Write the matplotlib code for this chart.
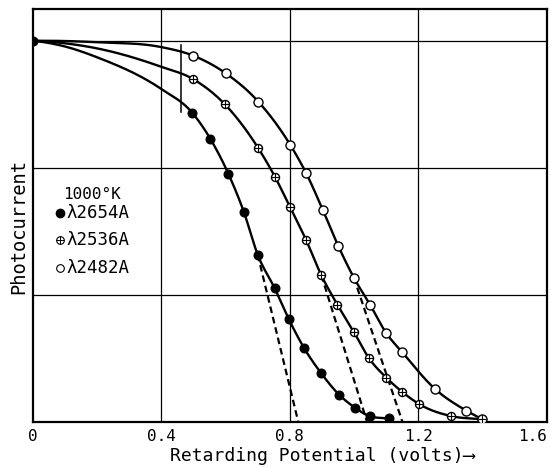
import numpy as np
import matplotlib
matplotlib.use("Agg")
import matplotlib.pyplot as plt

plt.rcParams["font.family"] = ["DejaVu Sans Mono", "DejaVu Sans"]

# ---------------- data ----------------
# lambda 2654 A (filled circles)
v2654 = [0.0, 0.497, 0.553, 0.609, 0.657, 0.700, 0.753, 0.797, 0.845, 0.898, 0.953, 1.003, 1.049, 1.110]
i2654 = [3.0, 2.431, 2.226, 1.951, 1.651, 1.315, 1.050, 0.806, 0.577, 0.380, 0.213, 0.110, 0.043, 0.026]
# lambda 2536 A (crossed circles)
v2536 = [0.499, 0.598, 0.702, 0.754, 0.801, 0.851, 0.898, 0.948, 1.000, 1.046, 1.100, 1.150, 1.202, 1.300, 1.399]
i2536 = [2.698, 2.499, 2.153, 1.927, 1.688, 1.428, 1.153, 0.921, 0.703, 0.501, 0.347, 0.234, 0.139, 0.045, 0.019]
# lambda 2482 A (open circles)
v2482 = [0.500, 0.601, 0.702, 0.802, 0.851, 0.903, 0.951, 0.999, 1.050, 1.099, 1.150, 1.252, 1.349, 1.399]
i2482 = [2.882, 2.743, 2.520, 2.177, 1.956, 1.665, 1.382, 1.135, 0.919, 0.701, 0.546, 0.257, 0.087, 0.019]

guide_v = [0.0, 0.1, 0.2, 0.4]
guide_2654 = [3.0, 2.955, 2.87, 2.62]
guide_2536 = [3.0, 2.98, 2.94, 2.795]
guide_2482 = [3.0, 2.998, 2.988, 2.95]

# dashed extrapolations: (start V, start I, end V, end I)
dash_v0 = [0.700, 0.898, 0.999]
dash_i0 = [1.315, 1.153, 1.135]
dash_v1 = [0.826, 1.040, 1.150]
dash_i1 = [0.0, 0.0, 0.0]

# short vertical mark
mark_v = 0.46
mark_i = [2.436, 2.97]

xticks = [0, 0.4, 0.8, 1.2, 1.6]
xtick_labels = ["0", "0.4", "0.8", "1.2", "1.6"]
legend_title = "1000°K"
legend_labels = ["λ2654A", "λ2536A", "λ2482A"]


def smooth_curve(x, y, xn):
    """Cubic Hermite through the points, 3-point slopes limited to avoid overshoot."""
    x = np.asarray(x, float)
    y = np.asarray(y, float)
    h = np.diff(x)
    d = np.diff(y) / h
    n = len(x)
    m = np.zeros(n)
    for k in range(1, n - 1):
        if d[k - 1] * d[k] <= 0:
            m[k] = 0.0
        else:
            m[k] = (h[k] * d[k - 1] + h[k - 1] * d[k]) / (h[k - 1] + h[k])
    m0 = ((2 * h[0] + h[1]) * d[0] - h[0] * d[1]) / (h[0] + h[1])
    m[0] = m0 if np.sign(m0) == np.sign(d[0]) else 0.0
    m[-1] = d[-1]
    for k in range(n - 1):
        if d[k] == 0:
            m[k] = m[k + 1] = 0.0
            continue
        a = m[k] / d[k]
        b = m[k + 1] / d[k]
        s = a * a + b * b
        if s > 9:
            t = 3 / np.sqrt(s)
            m[k] = t * a * d[k]
            m[k + 1] = t * b * d[k]
    xn = np.asarray(xn, float)
    idx = np.clip(np.searchsorted(x, xn) - 1, 0, n - 2)
    t = (xn - x[idx]) / h[idx]
    h00 = 2 * t**3 - 3 * t**2 + 1
    h10 = t**3 - 2 * t**2 + t
    h01 = -2 * t**3 + 3 * t**2
    h11 = t**3 - t**2
    return (h00 * y[idx] + h10 * h[idx] * m[idx] + h01 * y[idx + 1]
            + h11 * h[idx] * m[idx + 1])


fig = plt.figure(figsize=(5.5, 4.68), dpi=100)
ax = fig.add_axes([32.7 / 550, 1 - 421.7 / 468, (547 - 32.7) / 550, (421.7 - 9) / 468])
ax.set_xlim(0, 1.6)
ax.set_ylim(0, 3.25)

for g in [0.4, 0.8, 1.2]:
    ax.axvline(g, color="black", lw=0.9, zorder=1)
for g in [1, 2, 3]:
    ax.axhline(g, color="black", lw=0.9, zorder=1)

lw = 1.7
cv1 = guide_v + v2654[1:]
ci1 = guide_2654 + i2654[1:]
xs = np.linspace(0, v2654[-1], 500)
ax.plot(xs, smooth_curve(cv1, ci1, xs), color="black", lw=lw, zorder=3)

cv2 = guide_v + v2536
ci2 = guide_2536 + i2536
xs = np.linspace(0, v2536[-1], 500)
ax.plot(xs, smooth_curve(cv2, ci2, xs), color="black", lw=lw, zorder=3)

cv3 = guide_v + v2482
ci3 = guide_2482 + i2482
xs = np.linspace(0, v2482[-1], 500)
ax.plot(xs, smooth_curve(cv3, ci3, xs), color="black", lw=lw, zorder=3)

# dashed extrapolations
for a, b, c, d in zip(dash_v0, dash_i0, dash_v1, dash_i1):
    ax.plot([a, c], [b, d], color="black", lw=1.6, ls=(0, (3, 1.8)), zorder=2)

# vertical mark
ax.plot([mark_v, mark_v], mark_i, color="black", lw=1.1, zorder=3)

# markers
ax.plot(v2654, i2654, ls="none", marker="o", ms=6.2, mfc="black", mec="black", zorder=5)
ax.plot(v2536, i2536, ls="none", marker="o", ms=5.8, mfc="white", mec="black", mew=1.0, zorder=5)
ax.plot(v2536, i2536, ls="none", marker="+", ms=5.8, mec="black", mew=0.8, zorder=6)
ax.plot(v2482, i2482, ls="none", marker="o", ms=6.5, mfc="white", mec="black", mew=1.0, zorder=5)

# legend drawn by hand
ax.text(0.094, 1.787, legend_title, fontsize=11.5, ha="left", va="center")
lx, tx = 0.085, 0.105
ly = [1.646, 1.431, 1.208]
ax.plot([lx], [ly[0]], marker="o", ms=6, mfc="black", mec="black", ls="none")
ax.plot([lx], [ly[1]], marker="o", ms=5.5, mfc="white", mec="black", mew=0.8, ls="none")
ax.plot([lx], [ly[1]], marker="+", ms=5.5, mec="black", mew=0.7, ls="none")
ax.plot([lx], [ly[2]], marker="o", ms=5.5, mfc="white", mec="black", mew=0.8, ls="none")
for y, lab in zip(ly, legend_labels):
    ax.text(tx, y, lab, fontsize=12.5, ha="left", va="center")

for s in ax.spines.values():
    s.set_linewidth(1.6)

ax.set_xticks(xticks)
ax.set_xticklabels(xtick_labels, fontsize=11.5)
ax.tick_params(axis="x", length=0, pad=5)
ax.get_xticklabels()[-1].set_ha("right")
ax.set_yticks([])

fig.text(170 / 550, 1 - 456 / 468, "Retarding Potential (volts)⟶", fontsize=13,
         ha="left", va="center")
fig.text(18.5 / 550, 1 - 226 / 468, "Photocurrent", fontsize=13.5, rotation=90,
         ha="center", va="center")

fig.savefig("out.png", dpi=100)
